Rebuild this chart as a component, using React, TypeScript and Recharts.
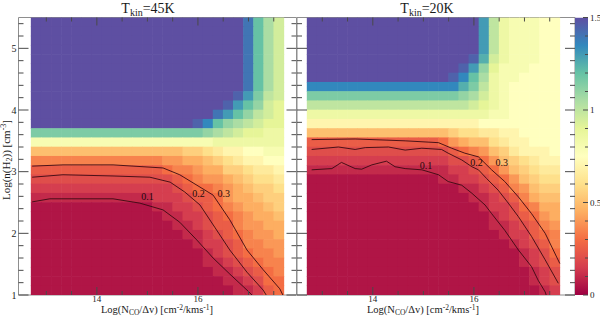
import React from "react";
import { ScatterChart, Scatter, XAxis, YAxis, ReferenceArea, BarChart, Bar } from "recharts";

// grid of the two line-ratio maps: log N/dv columns, log n(H2) rows (top to bottom)
const colCenters = [12.8, 13.0, 13.2, 13.4, 13.6, 13.8, 14.0, 14.2, 14.4, 14.6, 14.8, 15.0, 15.2, 15.4, 15.6, 15.8, 16.0, 16.2, 16.4, 16.6, 16.8, 17.0, 17.2, 17.4, 17.6];
const rowCenters = [5.425, 5.275, 5.125, 4.975, 4.825, 4.675, 4.525, 4.375, 4.225, 4.075, 3.925, 3.775, 3.625, 3.475, 3.325, 3.175, 3.025, 2.875, 2.725, 2.575, 2.425, 2.275, 2.125, 1.975, 1.825, 1.675, 1.525, 1.375, 1.225, 1.075];

// one char per cell, value = index * 0.05 (0 .. 1.5)
const levelKey = "0123456789abcdefghijklmnopqrstu";

const ratio45 = [
  "uuuuu uuuuu uuuuu uuuuu usolj",
  "uuuuu uuuuu uuuuu uuuuu usolj",
  "uuuuu uuuuu uuuuu uuuuu usolj",
  "uuuuu uuuuu uuuuu uuuuu usolj",
  "uuuuu uuuuu uuuuu uuuuu usolj",
  "uuuuu uuuuu uuuuu uuuuu usolj",
  "uuuuu uuuuu uuuuu uuuuu usolj",
  "uuuuu uuuuu uuuuu uuuuu usolj",
  "uuuuu uuuuu uuuuu uuuuu tqnkj",
  "uuuuu uuuuu uuuuu uuuut qomji",
  "uuuuu uuuuu uuuuu uuusq omkji",
  "uuuuu uuuuu uuuuu utrom lkjii",
  "nnnnn nnnnn nnnnn nnmlk jiihh",
  "ggggg ggggg ggggg ggghh hhhhh",
  "aaaaa aaaaa aaaaa bbcde effgg",
  "77777 77777 77788 99abc deeff",
  "55555 55555 55567 7899b bcdde",
  "44444 44444 44445 67889 abccd",
  "33333 33333 33334 56678 9abbc",
  "22222 22222 22333 45568 99abb",
  "11111 11111 11223 34567 899ab",
  "11111 11111 11122 33456 7899a",
  "11111 11111 11112 23455 78899",
  "11111 11111 11111 22345 67889",
  "11111 11111 11111 12334 57788",
  "11111 11111 11111 11234 56778",
  "11111 11111 11111 11223 45677",
  "11111 11111 11111 11122 34567",
  "11111 11111 11111 11112 23466",
  "11111 11111 11111 11111 22356",
];

const ratio20 = [
  "uuuuu uuuuu uuuuu uuqkh gggff",
  "uuuuu uuuuu uuuuu uuqkh gggff",
  "uuuuu uuuuu uuuuu uuqkh gggff",
  "uuuuu uuuuu uuuuu uuqkh gggff",
  "uuuuu uuuuu uuuuu utpjh gggff",
  "uuuuu uuuuu uuuuu tqmig ggfff",
  "uuuuu uuuuu uuuut rolhg gffff",
  "rrrrr rrrrr rrrrr pnkhg fffff",
  "nnnnn nnnnn nnnnn mljhg fffff",
  "kkkkk kkkkk kkkkk kjihg fffff",
  "hhhhh hhhhh hhhhh hhhgg fffff",
  "eeeee eeeee eeeee eefff fffff",
  "aaaaa aaaaa aaaab ccdde effff",
  "55555 55555 55568 9aacd eefff",
  "44444 44444 44445 678ab deeef",
  "33333 33333 33334 4568a bcdee",
  "22222 22222 22223 34568 abcdd",
  "11111 11111 11122 33456 8abcc",
  "11111 11111 11111 22345 78abb",
  "11111 11111 11111 12234 579aa",
  "11111 11111 11111 11233 46799",
  "11111 11111 11111 11123 45689",
  "11111 11111 11111 11122 34578",
  "11111 11111 11111 11112 33567",
  "11111 11111 11111 11111 23457",
  "11111 11111 11111 11111 12346",
  "11111 11111 11111 11111 12345",
  "11111 11111 11111 11111 11234",
  "11111 11111 11111 11111 11234",
  "11111 11111 11111 11111 11123",
];

// contours
const c45Level01 = [
  { x: 12.72, y: 2.51 }, { x: 13.07, y: 2.56 }, { x: 14.32, y: 2.56 }, { x: 14.85, y: 2.49 },
  { x: 15.31, y: 2.38 }, { x: 15.64, y: 2.18 }, { x: 15.98, y: 1.89 }, { x: 16.3, y: 1.6 },
  { x: 16.63, y: 1.34 }, { x: 16.97, y: 1.08 }, { x: 17.07, y: 1.0 },
];
const c45Level02 = [
  { x: 12.72, y: 2.91 }, { x: 13.33, y: 2.95 }, { x: 14.32, y: 2.93 }, { x: 15.05, y: 2.91 },
  { x: 15.45, y: 2.83 }, { x: 15.74, y: 2.67 }, { x: 16.04, y: 2.46 }, { x: 16.34, y: 2.09 },
  { x: 16.63, y: 1.73 }, { x: 16.97, y: 1.37 }, { x: 17.29, y: 1.08 }, { x: 17.35, y: 1.0 },
];
const c45Level03 = [
  { x: 12.72, y: 3.09 }, { x: 13.33, y: 3.11 }, { x: 14.32, y: 3.11 }, { x: 15.31, y: 3.06 },
  { x: 15.64, y: 2.95 }, { x: 15.98, y: 2.78 }, { x: 16.3, y: 2.62 }, { x: 16.63, y: 2.22 },
  { x: 16.97, y: 1.73 }, { x: 17.29, y: 1.41 }, { x: 17.62, y: 1.1 }, { x: 17.68, y: 1.0 },
];
const c20Level01 = [
  { x: 12.79, y: 3.03 }, { x: 13.19, y: 3.05 }, { x: 13.38, y: 3.15 }, { x: 13.65, y: 3.05 },
  { x: 13.78, y: 3.04 }, { x: 13.98, y: 3.11 }, { x: 14.27, y: 3.17 }, { x: 14.44, y: 3.08 },
  { x: 14.64, y: 3.05 }, { x: 14.97, y: 3.03 }, { x: 15.3, y: 2.95 }, { x: 15.49, y: 2.84 },
  { x: 15.76, y: 2.78 }, { x: 15.96, y: 2.65 }, { x: 16.22, y: 2.46 }, { x: 16.35, y: 2.32 },
  { x: 16.61, y: 2.05 }, { x: 16.88, y: 1.73 }, { x: 17.14, y: 1.46 }, { x: 17.27, y: 1.24 },
  { x: 17.41, y: 1.05 }, { x: 17.43, y: 1.0 },
];
const c20Level02 = [
  { x: 12.79, y: 3.36 }, { x: 13.32, y: 3.4 }, { x: 13.65, y: 3.36 }, { x: 13.85, y: 3.39 },
  { x: 14.31, y: 3.4 }, { x: 14.64, y: 3.35 }, { x: 14.97, y: 3.38 }, { x: 15.36, y: 3.36 },
  { x: 15.49, y: 3.3 }, { x: 15.76, y: 3.19 }, { x: 15.96, y: 3.08 }, { x: 16.09, y: 3.03 },
  { x: 16.25, y: 2.89 }, { x: 16.48, y: 2.7 }, { x: 16.68, y: 2.49 }, { x: 16.88, y: 2.27 },
  { x: 17.14, y: 1.95 }, { x: 17.41, y: 1.57 }, { x: 17.67, y: 1.19 },
];
const c20Level03 = [
  { x: 12.79, y: 3.52 }, { x: 13.65, y: 3.53 }, { x: 14.64, y: 3.5 }, { x: 15.3, y: 3.47 },
  { x: 15.56, y: 3.38 }, { x: 15.82, y: 3.3 }, { x: 16.09, y: 3.24 }, { x: 16.35, y: 3.03 },
  { x: 16.61, y: 2.84 }, { x: 16.88, y: 2.59 }, { x: 17.14, y: 2.32 }, { x: 17.41, y: 2.0 },
  { x: 17.7, y: 1.51 },
];

const labels45 = [
  { x: 15.0, y: 2.6, label: "0.1" },
  { x: 16.01, y: 2.65, label: "0.2" },
  { x: 16.51, y: 2.65, label: "0.3" },
];
const labels20 = [
  { x: 15.05, y: 3.1, label: "0.1" },
  { x: 16.05, y: 3.15, label: "0.2" },
  { x: 16.55, y: 3.15, label: "0.3" },
];

const xTicks = [13, 13.5, 14, 14.5, 15, 15.5, 16, 16.5, 17, 17.5];
const xLabelled = [14, 16];
const yTicks = [1, 1.2, 1.4, 1.6, 1.8, 2, 2.2, 2.4, 2.6, 2.8, 3, 3.2, 3.4, 3.6, 3.8, 4, 4.2, 4.4, 4.6, 4.8, 5, 5.2, 5.4];
const cbTicks = [0, 0.1, 0.2, 0.3, 0.4, 0.5, 0.6, 0.7, 0.8, 0.9, 1, 1.1, 1.2, 1.3, 1.4, 1.5];
const cbLabelled = [0, 0.5, 1, 1.5];
const colorbarData = [{ k: "ratio", top: 1.5 }];

const spectral = ["#9e0142", "#d53e4f", "#f46d43", "#fdae61", "#fee08b", "#ffffbf", "#e6f598", "#abdda4", "#66c2a5", "#3288bd", "#5e4fa2"];

const W = 600;
const H = 317;
const TOP = 17.5;
const BOTTOM = 295;
const CB_LEFT = 575;
const CB_RIGHT = 588;
const SERIF = '"Liberation Serif", "DejaVu Serif", serif';
const TICK = "#4a4a4a";
const FRAME = "#8e8e8e";
const LINE = "#3a0a12";
const CELL_W = (0.2 * 278) / 5.5;
const CELL_H = (0.15 * (BOTTOM - TOP)) / 4.5;

function hexToRgb(h: string) {
  return [parseInt(h.slice(1, 3), 16), parseInt(h.slice(3, 5), 16), parseInt(h.slice(5, 7), 16)];
}

function colorFor(v: number) {
  const t = Math.max(0, Math.min(1, v / 1.5)) * 10;
  const i = Math.min(9, Math.floor(t));
  const f = t - i;
  const a = hexToRgb(spectral[i]);
  const b = hexToRgb(spectral[i + 1]);
  const c = a.map((av, k) => Math.round(av + (b[k] - av) * f));
  return `rgb(${c[0]},${c[1]},${c[2]})`;
}

function buildCells(rows: string[]) {
  const out: { x: number; y: number; v: number }[] = [];
  rows.forEach((row, r) => {
    const chars = row.replace(/ /g, "");
    for (let c = 0; c < chars.length; c++) {
      out.push({ x: colCenters[c], y: rowCenters[r], v: levelKey.indexOf(chars[c]) * 0.05 });
    }
  });
  return out;
}

const cellShape = (p: any) => (
  <rect
    x={p.cx - CELL_W / 2 - 0.3}
    y={p.cy - CELL_H / 2 - 0.3}
    width={CELL_W + 0.6}
    height={CELL_H + 0.6}
    fill={colorFor(p.payload.v)}
  />
);

const labelShape = (p: any) => (
  <text x={p.cx} y={p.cy} textAnchor="middle" dominantBaseline="central" fontSize={10} fontFamily={SERIF} fill="#1e0a0c">
    {p.payload.label}
  </text>
);

const noDot = () => <g />;

function Panel({ rows, contours, labels, domain, x0, x1, showYLabels }: any) {
  const xTick = (p: any) => {
    const v = p.payload.value;
    const major = xLabelled.includes(v);
    const len = major ? 8 : 4;
    return (
      <g>
        <line x1={p.x} x2={p.x} y1={BOTTOM} y2={BOTTOM - len} stroke={TICK} />
        <line x1={p.x} x2={p.x} y1={TOP} y2={TOP + len} stroke={TICK} />
        {major && (
          <text x={p.x} y={BOTTOM + 7} textAnchor="middle" fontSize={9} fontFamily={SERIF} fill="#222">
            {v}
          </text>
        )}
      </g>
    );
  };
  const yTick = (p: any) => {
    const v = p.payload.value;
    const major = Math.abs(v - Math.round(v)) < 1e-6;
    const len = major ? 10 : 5;
    return (
      <g>
        <line x1={x0} x2={x0 + len} y1={p.y} y2={p.y} stroke={TICK} />
        <line x1={x1} x2={x1 - len} y1={p.y} y2={p.y} stroke={TICK} />
        {major && showYLabels && (
          <text x={x0 - 2} y={p.y} textAnchor="end" dominantBaseline="central" fontSize={10} fontFamily={SERIF} fill="#222">
            {Math.round(v)}
          </text>
        )}
      </g>
    );
  };
  return (
    <div style={{ position: "absolute", left: 0, top: 0 }}>
      <ScatterChart width={W} height={H} margin={{ top: TOP, right: W - x1, bottom: 0, left: 0 }}>
        <Scatter data={buildCells(rows)} shape={cellShape} isAnimationActive={false} />
        {contours.map((c: any, i: number) => (
          <Scatter
            key={i}
            data={c}
            shape={noDot}
            line={{ stroke: LINE, strokeWidth: 0.9 }}
            fill={LINE}
            isAnimationActive={false}
          />
        ))}
        <Scatter data={labels} shape={labelShape} isAnimationActive={false} />
        <ReferenceArea x1={domain[0]} x2={domain[1]} y1={1} y2={5.5} fill="none" stroke={FRAME} strokeWidth={1} ifOverflow="visible" />
        <XAxis
          type="number"
          dataKey="x"
          domain={domain}
          allowDataOverflow
          ticks={xTicks}
          interval={0}
          tickSize={0}
          tickMargin={0}
          tickLine={false}
          axisLine={false}
          height={H - BOTTOM}
          tick={xTick}
        />
        <YAxis
          type="number"
          dataKey="y"
          domain={[1, 5.5]}
          allowDataOverflow
          ticks={yTicks}
          interval={0}
          tickSize={0}
          tickMargin={0}
          tickLine={false}
          axisLine={false}
          width={x0}
          tick={yTick}
        />
      </ScatterChart>
    </div>
  );
}

function Colorbar() {
  const cbTick = (p: any) => {
    const v = p.payload.value;
    const major = cbLabelled.some((m) => Math.abs(m - v) < 1e-6);
    return (
      <g>
        <line x1={CB_RIGHT} x2={CB_RIGHT - (major ? 5 : 3)} y1={p.y} y2={p.y} stroke={TICK} />
        {major && (
          <text x={CB_RIGHT + 2} y={p.y} dominantBaseline="central" fontSize={9} fontFamily={SERIF} fill="#222">
            {v}
          </text>
        )}
      </g>
    );
  };
  return (
    <div style={{ position: "absolute", left: 0, top: 0 }}>
      <BarChart
        width={W}
        height={H}
        data={colorbarData}
        margin={{ top: TOP, right: 0, bottom: H - BOTTOM, left: CB_LEFT }}
        barCategoryGap={0}
      >
        <defs>
          <linearGradient id="cbGrad" x1="0" y1="1" x2="0" y2="0">
            {spectral.map((c, i) => (
              <stop key={i} offset={i / 10} stopColor={c} />
            ))}
          </linearGradient>
        </defs>
        <XAxis dataKey="k" hide />
        <Bar dataKey="top" fill="url(#cbGrad)" isAnimationActive={false} />
        <YAxis
          orientation="right"
          type="number"
          domain={[0, 1.5]}
          allowDataOverflow
          ticks={cbTicks}
          interval={0}
          tickSize={0}
          tickMargin={0}
          tickLine={false}
          axisLine={false}
          width={W - CB_RIGHT}
          tick={cbTick}
        />
      </BarChart>
    </div>
  );
}

export default function App() {
  return (
    <div style={{ position: "absolute", left: 0, top: 0, width: W, height: H, background: "#fff", overflow: "hidden" }}>
      <Panel
        rows={ratio45}
        contours={[c45Level01, c45Level02, c45Level03]}
        labels={labels45}
        domain={[12.45, 17.95]}
        x0={18.5}
        x1={296.5}
        showYLabels
      />
      <Panel
        rows={ratio20}
        contours={[c20Level01, c20Level02, c20Level03]}
        labels={labels20}
        domain={[12.5, 18.0]}
        x0={297}
        x1={575}
        showYLabels={false}
      />
      <Colorbar />
      <svg width={W} height={H} style={{ position: "absolute", left: 0, top: 0, pointerEvents: "none" }}>
        <g fontFamily={SERIF} fill="#1a1a1a">
          <text x={148} y={13} fontSize={14} textAnchor="middle">
            T<tspan fontSize={10} dy={3}>kin</tspan>
            <tspan dy={-3}>=45K</tspan>
          </text>
          <text x={427} y={13} fontSize={14} textAnchor="middle">
            T<tspan fontSize={10} dy={3}>kin</tspan>
            <tspan dy={-3}>=20K</tspan>
          </text>
          {[157, 423].map((cx) => (
            <text key={cx} x={cx} y={313} fontSize={10.5} textAnchor="middle">
              Log(N<tspan fontSize={7.5} dy={1.5}>CO</tspan>
              <tspan dy={-1.5}>/Δv) [cm</tspan>
              <tspan fontSize={7.5} dy={-3}>-2</tspan>
              <tspan dy={3}>/kms</tspan>
              <tspan fontSize={7.5} dy={-3}>-1</tspan>
              <tspan dy={3}>]</tspan>
            </text>
          ))}
          <text transform="translate(10,160) rotate(-90)" fontSize={11} textAnchor="middle">
            Log(n(H<tspan fontSize={8} dy={2}>2</tspan>
            <tspan dy={-2}>)) [cm</tspan>
            <tspan fontSize={8} dy={-4}>-3</tspan>
            <tspan dy={4}>]</tspan>
          </text>
        </g>
      </svg>
    </div>
  );
}
